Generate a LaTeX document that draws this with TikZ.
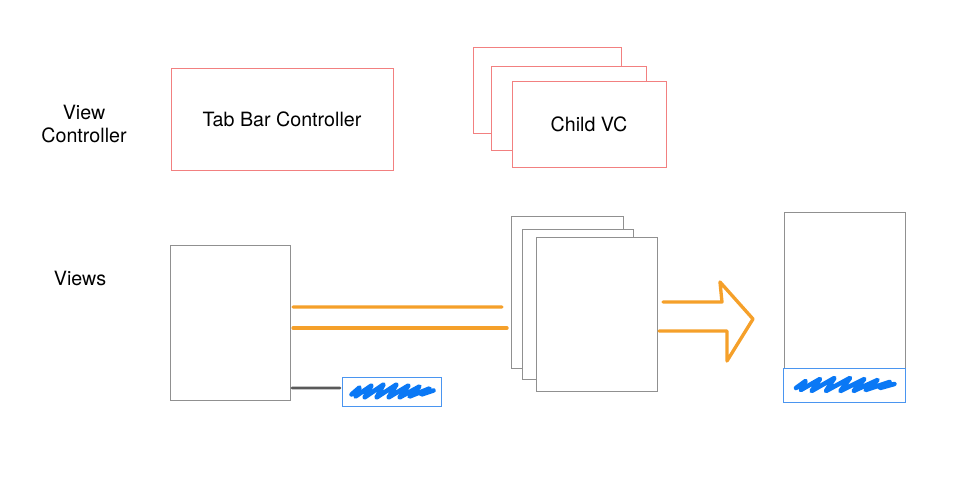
\documentclass[tikz,border=0pt]{standalone}
\usepackage{fontspec}
\setmainfont{TeX Gyre Heros}
\usepackage{tikz}
\usetikzlibrary{positioning}
\definecolor{vcred}{HTML}{F28080}
\definecolor{viewgray}{HTML}{909090}
\definecolor{barblue}{HTML}{4A95F0}
\definecolor{inkblue}{HTML}{0A78F5}
\definecolor{flow}{HTML}{F5A02A}
\tikzset{
  basic/.style  = {draw, rectangle, inner sep=0pt, outer sep=0pt, fill=white,
                   font=\fontsize{11.2}{13.5}\selectfont},
  vc/.style     = {basic, draw=vcred, line width=0.5pt},
  view/.style   = {basic, draw=viewgray, line width=0.5pt},
  tabbar/.style = {basic, draw=barblue, line width=0.5pt},
  label/.style  = {align=center, font=\fontsize{11.2}{13.5}\selectfont},
  flowline/.style = {draw=flow, line width=1.9pt, line cap=round, line join=round},
  scribble/.pic = {
    \draw[inkblue, line width=2.6pt, line cap=round, line join=round]
      (-40,-3) -- (-32,4) -- (-36,-5) -- (-20,6) -- (-27,-6) -- (-8,7)
      -- (-15,-6) -- (5,7) -- (-3,-6) -- (17,6) -- (8,-6) -- (28,5)
      -- (18,-5) -- (38,3) -- (30,-3) -- (42,1);
  }
}

\begin{document}
\begin{tikzpicture}[x=0.02cm, y=0.02cm]
\useasboundingbox (0,0) rectangle (977,500);

% row labels
\node[label] (lvc) at (84,376) {View\\Controller};
\node[label] (lviews) at (80,222) {Views};

% view controllers
\node[vc, minimum width=4.44cm, minimum height=2.04cm] (tbc) at (282,381) {Tab Bar Controller};
\node[vc, minimum width=2.96cm, minimum height=1.72cm] (cvc3) at (547,410) {};
\node[vc, minimum width=3.10cm, minimum height=1.68cm] (cvc2) at (568.5,392) {};
\node[vc, minimum width=3.08cm, minimum height=1.72cm] (cvc1) at (589,376) {Child VC};

% views, left: tab bar controller view
\node[view, minimum width=2.40cm, minimum height=3.10cm] (lv) at (230,177.5) {};
\node[tabbar, minimum width=1.98cm, minimum height=0.58cm] (bar1) at (391.5,108.5) {};
\pic at (bar1) {scribble};
\draw[draw=black!65, line width=1.6pt, line cap=round]
  ([shift={(2,12)}]lv.south east) -- ([shift={(-2,3.5)}]bar1.west);

% child views
\node[view, minimum width=2.24cm, minimum height=3.04cm] (cv3) at (567,208) {};
\node[view, minimum width=2.22cm, minimum height=3.00cm] (cv2) at (577.5,196) {};
\node[view, minimum width=2.42cm, minimum height=3.08cm] (cv1) at (596.5,186) {};

\draw[flowline] ([shift={(3,15.5)}]lv.east) -- ([shift={(-9,-15)}]cv3.west);
\draw[flowline] ([shift={(3,-5.5)}]lv.east) -- ([shift={(-4,-36)}]cv3.west);

% result: combined view
\node[view, minimum width=2.42cm, minimum height=3.12cm] (rv) at (844.5,210) {};
\node[tabbar, minimum width=2.44cm, minimum height=0.68cm] (bar2) at (844,115) {};
\pic[xscale=1.2] at (bar2) {scribble};

% big arrow
\draw[flowline] ([shift={(6,12)}]cv1.east) -- ++(59,0) -- ++(-2,20) -- ++(33,-37)
  -- ++(-26,-42) -- ++(0,30) -- ([shift={(2,-17)}]cv1.east);

\end{tikzpicture}
\end{document}
